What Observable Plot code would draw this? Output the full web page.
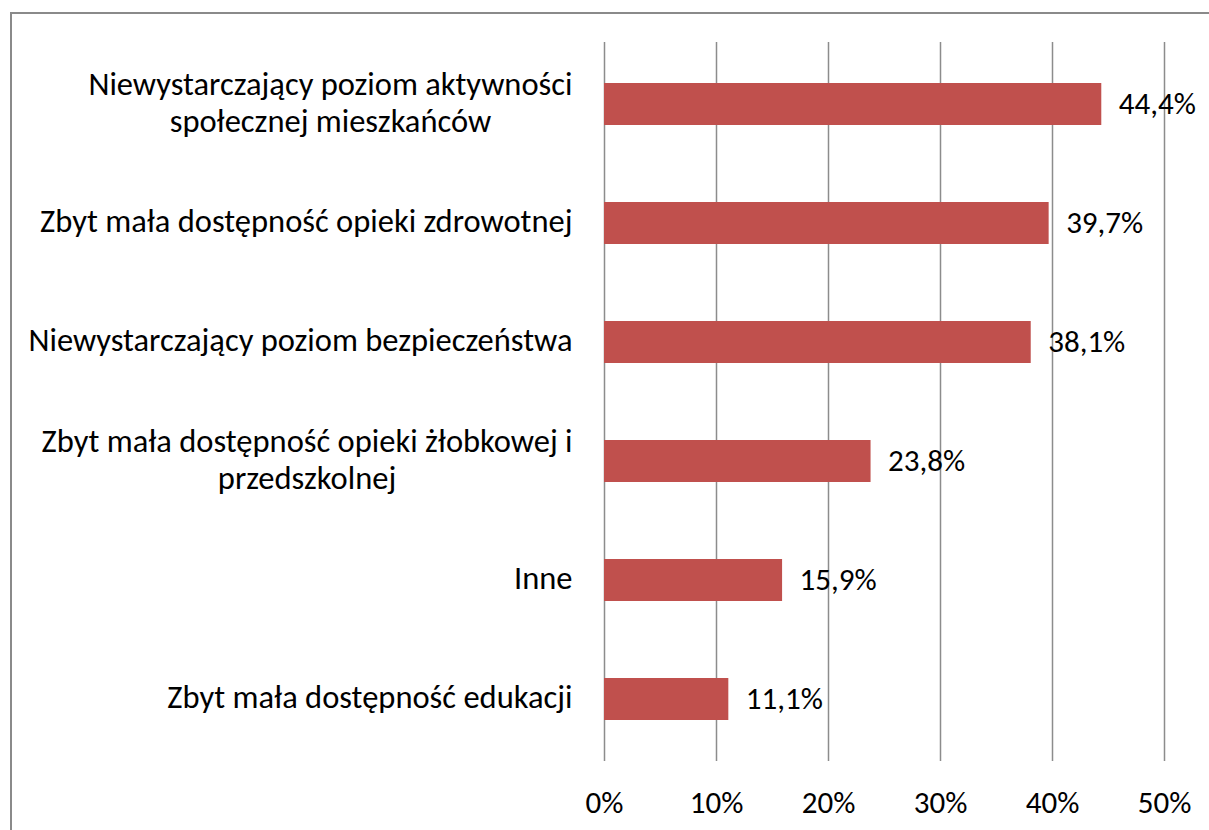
<!DOCTYPE html>
<html>
<head>
<meta charset="utf-8">
<script src="https://cdn.jsdelivr.net/npm/d3@7"></script>
<script src="https://cdn.jsdelivr.net/npm/@observablehq/plot@0.6"></script>
<style>
  html, body { margin: 0; padding: 0; background: #fff; }
  #wrap { position: relative; width: 1209px; height: 830px; overflow: hidden; }
  #frame { position: absolute; left: 10px; top: 12px; width: 1400px; height: 1000px;
           border-top: 2px solid #8a8a8a; border-left: 2px solid #8a8a8a; }
  #chart { position: absolute; left: 0; top: 0; }
</style>
</head>
<body>
<div id="wrap"><div id="frame"></div><div id="chart"></div></div>
<script>
const categories = [
  "Niewystarczający poziom aktywności\nspołecznej mieszkańców",
  "Zbyt mała dostępność opieki zdrowotnej",
  "Niewystarczający poziom bezpieczeństwa",
  "Zbyt mała dostępność opieki żłobkowej i\nprzedszkolnej",
  "Inne",
  "Zbyt mała dostępność edukacji"
];
const values = [44.4, 39.7, 38.1, 23.8, 15.9, 11.1];
const valueLabels = ["44,4%", "39,7%", "38,1%", "23,8%", "15,9%", "11,1%"];
const xTicks = [0, 10, 20, 30, 40, 50];
const xTickLabels = ["0%", "10%", "20%", "30%", "40%", "50%"];

const FONT = "Carlito, Lato, sans-serif";
const FS = 32.5;   // category labels
const FS2 = 31;    // value and tick labels
const data = categories.map((c, i) => ({cat: c, v: values[i], lab: valueLabels[i]}));

// measure line widths to center multi-line labels in a right-aligned block
const ctx = document.createElement("canvas").getContext("2d");
ctx.font = `${FS}px ${FONT}`;
const blockW = c => Math.max(...c.split("\n").map(s => ctx.measureText(s).width));
const GAP = 32;

const labelMarks = data.map(d => Plot.text([d], {
  x: () => 0, y: "cat", text: "cat",
  dx: -(GAP + blockW(d.cat) / 2), dy: -3, textAnchor: "middle",
  lineHeight: 1.15, fontSize: FS, fill: "#000"
}));

const chart = Plot.plot({
  width: 1209,
  height: 830,
  marginTop: 42,
  marginBottom: 69,
  marginLeft: 604,
  marginRight: 45,
  style: {fontFamily: FONT, fontSize: FS2 + "px", color: "#000", background: "transparent"},
  x: {domain: [0, 50], ticks: xTicks, label: null},
  y: {domain: categories, paddingInner: 0.65, paddingOuter: 0.325, label: null, axis: null},
  marks: [
    Plot.ruleX(xTicks, {stroke: "#8c8c8c", strokeWidth: 1.5}),
    Plot.ruleY([0], {y: () => null, frameAnchor: "bottom", stroke: "#8c8c8c", strokeWidth: 1.5}),
    Plot.barX(data, {x: "v", y: "cat", fill: "#C0504D"}),
    Plot.text(data, {x: "v", y: "cat", text: "lab", textAnchor: "start", dx: 17, fontSize: FS2, fill: "#000"}),
    Plot.axisX({ticks: xTicks, tickFormat: (d, i) => xTickLabels[i], tickSize: 0, tickPadding: 29, fontSize: FS2, label: null}),
    ...labelMarks
  ]
});
document.getElementById("chart").appendChild(chart);
</script>
</body>
</html>
